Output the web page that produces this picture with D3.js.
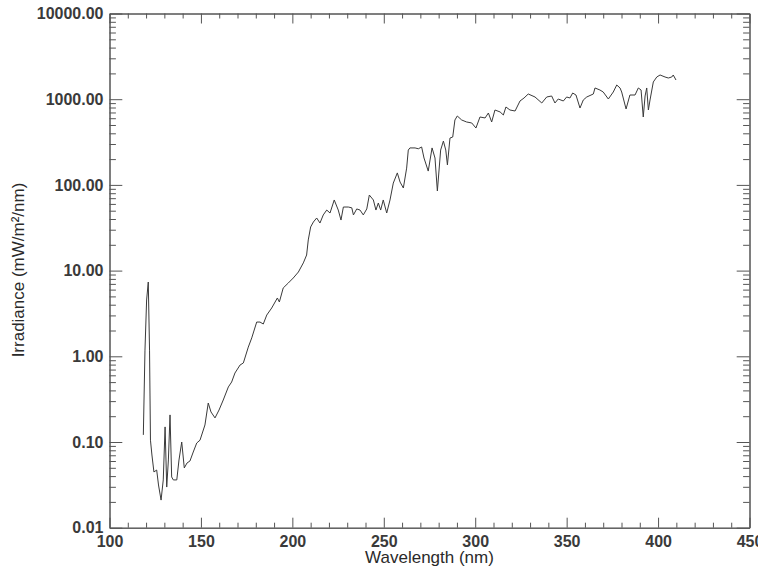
<!DOCTYPE html>
<html>
<head>
<meta charset="utf-8">
<script src="https://cdn.jsdelivr.net/npm/d3@7"></script>
<style>
  body { margin: 0; background: #fff; }
  svg { display: block; font-family: "Liberation Sans", Arial, sans-serif; }
  .axis path, .axis line { stroke: #555; }
  .axis text { font-size: 16px; font-weight: bold; fill: #3a3a3a; }
  .title { font-size: 17px; fill: #2a2a2a; }
</style>
</head>
<body>
<div id="chart"></div>
<script>
// Solar spectrum
let wavelength = [118.5, 119.4, 120.3, 121.2, 121.9, 122.4, 123.2, 124.3, 125.8, 126.8,
  128.2, 129.4, 130.4, 131.3, 132.2, 133.1, 134.0, 134.9, 136.8, 138.0,
  139.5, 140.9, 142.4, 144.0, 145.8, 147.7, 149.5, 152.2, 154.0, 155.5,
  157.7, 159.9, 162.2, 165.0, 166.8, 168.6, 171.4, 173.2, 175.9, 177.8,
  180.5, 182.3, 184.1, 186.0, 188.7, 191.8, 192.9, 195.0, 197.8, 200.5,
  203.3, 206.0, 207.8, 208.7, 210.0, 211.5, 213.3, 215.1, 216.9, 218.8,
  220.6, 222.9, 225.1, 226.6, 227.9, 230.6, 232.5, 233.4, 235.2, 237.0,
  238.8, 240.7, 242.1, 244.3, 245.7, 247.0, 248.3, 249.7, 251.6, 253.4,
  255.2, 257.4, 258.9, 260.7, 262.5, 263.4, 264.3, 267.1, 268.9, 270.7,
  272.0, 274.3, 276.4, 278.0, 279.3, 281.1, 282.6, 283.9, 284.8, 286.2,
  287.7, 288.9, 290.2, 292.6, 295.3, 298.1, 300.4, 302.6, 305.4, 307.2,
  309.0, 310.8, 313.6, 315.4, 316.8, 319.0, 321.8, 324.5, 326.7, 329.0,
  332.7, 336.4, 339.1, 341.8, 343.6, 345.4, 348.2, 350.0, 351.8, 353.3,
  355.1, 357.3, 359.1, 361.0, 364.6, 365.5, 368.2, 370.0, 372.8, 375.5,
  377.4, 379.2, 380.1, 382.5, 384.6, 387.4, 389.2, 390.7, 391.9, 392.9,
  393.8, 394.7, 395.6, 397.4, 399.3, 401.1, 403.8, 405.6, 407.5, 408.3,
  409.8];

let irradiance = [0.121, 1.18, 4.54, 7.36, 1.18, 0.105, 0.0705, 0.0447, 0.0471, 0.0315,
  0.021, 0.0361, 0.150, 0.0298, 0.0617, 0.207, 0.0391, 0.0361, 0.0361, 0.0617,
  0.100, 0.0498, 0.0569, 0.060, 0.0764, 0.0973, 0.105, 0.158, 0.285, 0.224,
  0.191, 0.236, 0.309, 0.439, 0.501, 0.638, 0.791, 0.836, 1.28, 1.64,
  2.51, 2.51, 2.38, 3.03, 3.66, 4.79, 4.30, 6.27, 7.17, 8.20,
  9.63, 12.3, 15.2, 22.8, 32.3, 36.9, 41.1, 35.9, 44.6, 50.9,
  47.0, 66.7, 50.9, 38.9, 55.2, 55.2, 54.0, 44.6, 52.4, 50.9,
  44.6, 52.4, 76.2, 66.7, 50.9, 61.5, 50.9, 66.7, 47.0, 66.7,
  105, 138, 108, 92.0, 157, 255, 270, 270, 264, 277,
  206, 145, 270, 206, 84.9, 255, 325, 255, 171, 352,
  362, 572, 637, 572, 542, 528, 461, 620, 604, 690,
  542, 748, 710, 654, 811, 748, 728, 953, 1033, 1150,
  1061, 903, 1061, 1090, 903, 1005, 953, 1061, 1033, 1181,
  1119, 789, 979, 1061, 1150, 1352, 1280, 1213, 1005, 1213,
  1465, 1352, 1213, 769, 1119, 1119, 1352, 1280, 620, 1090,
  1352, 748, 979, 1589, 1816, 1916, 1816, 1767, 1816, 1916,
  1675];

let xTicks = [100, 150, 200, 250, 300, 350, 400, 450];
let yTicks = [0.01, 0.1, 1, 10, 100, 1000, 10000];

let width = 758;
let height = 571;
let plotLeft = 109.5, plotRight = 749.5, plotTop = 13.5, plotBottom = 527.7;

let x = d3.scaleLinear().domain([100, 450]).range([plotLeft, plotRight]);
let y = d3.scaleLog().domain([0.01, 10000]).range([plotBottom, plotTop]);

// minor ticks
let xMinor = d3.range(100, 451, 10).filter(v => v % 50 != 0);
let yMinor = [];
yTicks.slice(0, -1).forEach(d => {
  for (let k = 2; k <= 9; k++) yMinor.push(d * k);
});

let svg = d3.select("#chart").append("svg")
  .attr("width", width)
  .attr("height", height);

let xLen = 10, yLen = 12.8;

// bottom axis
svg.append("g").attr("class", "axis")
  .attr("transform", "translate(0," + plotBottom + ")")
  .call(d3.axisBottom(x).tickValues(xTicks).tickSize(-xLen).tickSizeOuter(0)
    .tickPadding(8).tickFormat(d3.format("d")));
svg.append("g").attr("class", "axis")
  .attr("transform", "translate(0," + plotBottom + ")")
  .call(d3.axisBottom(x).tickValues(xMinor).tickSize(-xLen / 2).tickSizeOuter(0).tickFormat(""));

// top axis
svg.append("g").attr("class", "axis")
  .attr("transform", "translate(0," + plotTop + ")")
  .call(d3.axisTop(x).tickValues(xTicks).tickSize(-xLen).tickSizeOuter(0).tickFormat(""));
svg.append("g").attr("class", "axis")
  .attr("transform", "translate(0," + plotTop + ")")
  .call(d3.axisTop(x).tickValues(xMinor).tickSize(-xLen / 2).tickSizeOuter(0).tickFormat(""));

// left axis
svg.append("g").attr("class", "axis")
  .attr("transform", "translate(" + plotLeft + ",0)")
  .call(d3.axisLeft(y).tickValues(yTicks).tickSize(-yLen).tickSizeOuter(0)
    .tickPadding(6).tickFormat(d3.format(".2f")));
svg.append("g").attr("class", "axis")
  .attr("transform", "translate(" + plotLeft + ",0)")
  .call(d3.axisLeft(y).tickValues(yMinor).tickSize(-yLen / 2).tickSizeOuter(0).tickFormat(""));

// right axis
svg.append("g").attr("class", "axis")
  .attr("transform", "translate(" + plotRight + ",0)")
  .call(d3.axisRight(y).tickValues(yTicks).tickSize(-yLen).tickSizeOuter(0).tickFormat(""));
svg.append("g").attr("class", "axis")
  .attr("transform", "translate(" + plotRight + ",0)")
  .call(d3.axisRight(y).tickValues(yMinor).tickSize(-yLen / 2).tickSizeOuter(0).tickFormat(""));

// the spectrum
let line = d3.line()
  .x((d, i) => x(wavelength[i]))
  .y(d => y(d));

svg.append("path")
  .datum(irradiance)
  .attr("fill", "none")
  .attr("stroke", "#3a3a3a")
  .attr("stroke-width", 1)
  .attr("d", line);

// axis titles
svg.append("text")
  .attr("class", "title")
  .attr("x", (plotLeft + plotRight) / 2)
  .attr("y", 563)
  .attr("text-anchor", "middle")
  .text("Wavelength (nm)");

svg.append("text")
  .attr("class", "title")
  .attr("transform", "translate(24," + 270 + ") rotate(-90)")
  .attr("text-anchor", "middle")
  .text("Irradiance (mW/m²/nm)");
</script>
</body>
</html>
